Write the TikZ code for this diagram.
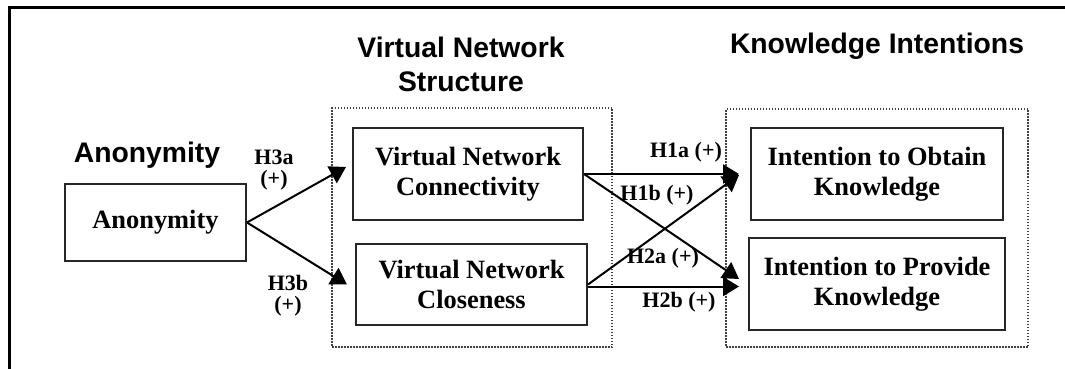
\documentclass[tikz,border=0pt]{standalone}
\usepackage{fontspec}
\setmainfont{Liberation Serif}
\newfontfamily\titlefont{Liberation Sans}
\usetikzlibrary{arrows.meta}
\begin{document}
\begin{tikzpicture}[x=1pt,y=-1pt,
  varbox/.style={draw=black!85, line width=2pt, align=center, inner sep=0pt,
    font=\fontsize{26.4}{30}\selectfont\bfseries},
  grpbox/.style={draw=black!75, line width=1.3pt, dash pattern=on 1.5pt off 1.5pt},
  ttl/.style={font=\titlefont\fontsize{28.3}{34}\selectfont\bfseries, align=center, inner sep=0pt, anchor=base},
  hyp/.style={font=\fontsize{22}{21}\selectfont\bfseries, align=center, inner sep=0pt},
  link/.style={line width=2pt, -{Triangle[length=16pt,width=19pt]}},
  frame/.style={line width=2.6pt}
]
\useasboundingbox (0,0) rectangle (1065,369);
% frame
\coordinate (fTL) at (9.5,7.5);
\coordinate (fTR) at (1065,7.5);
\coordinate (fBL) at (9.5,369);
\draw[frame] (fTR) -- (fTL) -- (fBL);

% group boxes
\node[grpbox, minimum width=280pt, minimum height=239pt, inner sep=0pt] (vns) at (472,227.5) {};
\node[grpbox, minimum width=302pt, minimum height=238pt, inner sep=0pt] (ki) at (877,228) {};

% titles
\node[ttl] (tanon) at (147,162) {Anonymity};
\node[ttl] (tvns1) at (461,57) {Virtual Network};
\node[ttl] (tvns2) at (461,91) {Structure};
\node[ttl] (tki) at (877,53) {Knowledge Intentions};

% variable boxes
\node[varbox, minimum width=181pt, minimum height=77pt] (anon) at (155.5,222.5) {Anonymity};
\node[varbox, minimum width=230pt, minimum height=92pt] (vnc) at (468,174) {Virtual Network\\Connectivity};
\node[varbox, minimum width=231pt, minimum height=81pt] (vncl) at (471.5,284.5) {Virtual Network\\Closeness};
\node[varbox, minimum width=252pt, minimum height=92pt] (io) at (877,174) {Intention to Obtain\\Knowledge};
\node[varbox, minimum width=256pt, minimum height=92pt] (ip) at (877,284) {Intention to Provide\\Knowledge};

% connectors
\draw[link] (anon.east) -- ([xshift=-6pt,yshift=7pt]vnc.west);
\draw[link] (anon.east) -- ([xshift=-8pt]vncl.west);
\draw[link] (vnc.east) -- ([xshift=-11pt]io.west);
\draw[link] (vnc.east) -- ([xshift=-9pt,yshift=5pt]ip.west);
\draw[link] (vncl.east) -- ([xshift=-11pt,yshift=-1pt]io.west);
\draw[link] ([yshift=-2pt]vncl.east) -- ([xshift=-9pt,yshift=-2pt]vncl.east -| ip.west);

% hypothesis labels
\node[hyp] (h3a) at (274,170) {H3a\\(+)};
\node[hyp] (h3b) at (288,296) {H3b\\(+)};
\node[hyp] (h1a) at (686,152) {H1a (+)};
\node[hyp] (h1b) at (657,195) {H1b (+)};
\node[hyp] (h2a) at (663,258) {H2a (+)};
\node[hyp] (h2b) at (679,302) {H2b (+)};
\end{tikzpicture}
\end{document}
